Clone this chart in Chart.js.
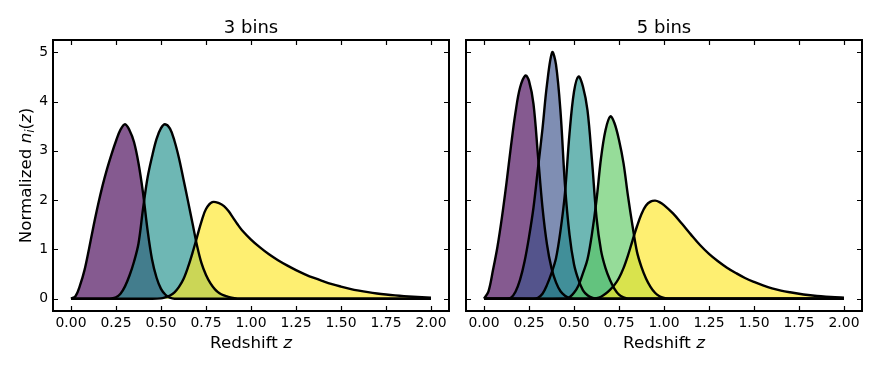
<!DOCTYPE html>
<html>
<head>
<meta charset="utf-8">
<script src="https://cdn.jsdelivr.net/npm/chart.js@4.4.0/dist/chart.umd.min.js"></script>
<style>
  html, body { margin: 0; padding: 0; background: #fff; }
  #wrap { position: relative; width: 880px; height: 368px; }
  canvas { position: absolute; top: 0; }
</style>
</head>
<body>
<div id="wrap">
  <canvas id="left" width="452" height="368" style="left:0px"></canvas>
  <canvas id="right" width="440" height="368" style="left:440px"></canvas>
</div>
<script>
// tick labels
const zTicks = [0, 0.25, 0.5, 0.75, 1, 1.25, 1.5, 1.75, 2];
const nTicks = [0, 1, 2, 3, 4, 5];

const colors3 = ['#440154', '#21918c', '#fde725'];
const colors5 = ['#440154', '#3b528b', '#21918c', '#5ec962', '#fde725'];

// 3 bins, [z, n(z)]
const bin3a = [[0,0],[0.025,0.05],[0.05,0.27],[0.075,0.58],[0.1,1.01],[0.125,1.47],[0.15,1.9],[0.175,2.29],
  [0.2,2.63],[0.225,2.93],[0.25,3.2],[0.275,3.43],[0.3,3.54],[0.325,3.42],[0.35,3.18],[0.375,2.75],
  [0.4,2.15],[0.425,1.4],[0.45,0.8],[0.475,0.43],[0.5,0.2],[0.525,0.08],[0.55,0.02],[0.575,0]];
const bin3b = [[0.2,0],[0.225,0.005],[0.25,0.03],[0.275,0.1],[0.3,0.25],[0.325,0.47],[0.35,0.75],[0.375,1.12],
  [0.4,1.82],[0.425,2.45],[0.45,2.88],[0.475,3.24],[0.5,3.46],[0.522,3.54],[0.55,3.45],[0.575,3.2],
  [0.6,2.85],[0.625,2.42],[0.65,1.98],[0.675,1.53],[0.7,1.08],[0.725,0.72],[0.75,0.48],[0.775,0.31],
  [0.8,0.19],[0.825,0.11],[0.85,0.065],[0.875,0.035],[0.9,0.015],[0.925,0]];
const bin3c = [[0.45,0],[0.5,0.007],[0.525,0.03],[0.55,0.065],[0.575,0.13],[0.6,0.24],[0.625,0.4],[0.65,0.64],
  [0.675,0.93],[0.7,1.25],[0.725,1.57],[0.75,1.82],[0.785,1.96],[0.825,1.935],[0.85,1.88],[0.875,1.78],
  [0.9,1.645],[0.925,1.51],[0.95,1.39],[1,1.2],[1.05,1.04],[1.1,0.9],[1.15,0.78],[1.2,0.675],[1.25,0.58],
  [1.3,0.495],[1.35,0.42],[1.4,0.355],[1.45,0.295],[1.5,0.245],[1.55,0.2],[1.6,0.163],[1.65,0.132],
  [1.7,0.106],[1.75,0.085],[1.8,0.067],[1.85,0.052],[1.9,0.04],[1.95,0.03],[2,0.022]];

// 5 bins
const bin5a = [[0,0],[0.025,0.15],[0.05,0.58],[0.075,1.06],[0.1,1.66],[0.125,2.35],[0.15,3.1],[0.175,3.78],
  [0.2,4.28],[0.23,4.53],[0.25,4.42],[0.275,3.95],[0.3,2.9],[0.325,1.85],[0.35,1.1],[0.375,0.62],
  [0.4,0.33],[0.425,0.15],[0.45,0.06],[0.475,0.01],[0.5,0]];
const bin5b = [[0.125,0],[0.15,0.02],[0.175,0.14],[0.2,0.38],[0.225,0.75],[0.25,1.25],[0.275,1.85],[0.3,2.65],
  [0.325,3.45],[0.35,4.35],[0.379,5.0],[0.4,4.75],[0.425,3.8],[0.45,2.3],[0.475,1.3],[0.5,0.7],
  [0.525,0.38],[0.55,0.17],[0.575,0.07],[0.6,0.02],[0.625,0]];
const bin5c = [[0.275,0],[0.3,0.02],[0.325,0.1],[0.35,0.28],[0.375,0.52],[0.4,0.82],[0.425,1.38],[0.45,2.15],
  [0.475,3.35],[0.5,4.2],[0.525,4.51],[0.55,4.3],[0.575,3.82],[0.6,2.8],[0.625,1.65],[0.65,0.98],
  [0.675,0.62],[0.7,0.38],[0.725,0.2],[0.75,0.08],[0.775,0.025],[0.8,0]];
const bin5d = [[0.45,0],[0.475,0.03],[0.5,0.12],[0.525,0.27],[0.55,0.52],[0.575,0.8],[0.6,1.32],[0.625,2.0],
  [0.65,2.85],[0.675,3.42],[0.702,3.7],[0.725,3.56],[0.75,3.22],[0.775,2.75],[0.8,2.08],[0.825,1.48],
  [0.85,0.95],[0.875,0.64],[0.9,0.41],[0.925,0.24],[0.95,0.12],[0.975,0.05],[1,0.015],[1.025,0]];
const bin5e = [[0.6,0],[0.625,0.01],[0.65,0.04],[0.675,0.1],[0.7,0.18],[0.725,0.28],[0.75,0.42],[0.775,0.62],
  [0.8,0.88],[0.825,1.18],[0.85,1.47],[0.875,1.72],[0.9,1.89],[0.925,1.97],[0.951,1.99],[0.975,1.96],
  [1,1.9],[1.05,1.73],[1.1,1.52],[1.15,1.3],[1.2,1.09],[1.25,0.91],[1.3,0.76],[1.35,0.63],[1.4,0.52],
  [1.45,0.42],[1.5,0.34],[1.55,0.27],[1.6,0.21],[1.65,0.165],[1.7,0.13],[1.75,0.1],[1.8,0.075],
  [1.85,0.055],[1.9,0.04],[1.95,0.028],[2,0.02]];

const FONT = 'DejaVu Sans';

function hexA(hex, a) {
  const r = parseInt(hex.slice(1, 3), 16), g = parseInt(hex.slice(3, 5), 16), b = parseInt(hex.slice(5, 7), 16);
  return `rgba(${r},${g},${b},${a})`;
}

// every curve runs over the full 0..2 range, zeros outside its support
function curve(pts) {
  const out = pts.map(([x, y]) => ({ x, y }));
  if (out[0].x > 0) out.unshift({ x: 0, y: 0 });
  if (out[out.length - 1].x < 2) out.push({ x: 2, y: 0 });
  return out;
}

// draw text pieces [text, italic, sub] centred at 0 on the baseline
function drawMixed(ctx, pieces, size) {
  const fontOf = p => `${p[1] ? 'oblique ' : ''}${p[2] ? size * 0.7 : size}px "${FONT}"`;
  let total = 0;
  const widths = pieces.map(p => { ctx.font = fontOf(p); const w = ctx.measureText(p[0]).width; total += w; return w; });
  let x = -total / 2;
  pieces.forEach((p, i) => {
    ctx.font = fontOf(p);
    ctx.fillText(p[0], x, p[2] ? size * 0.2 : 0);
    x += widths[i];
  });
}

const framePlugin = {
  id: 'frame',
  afterDatasetsDraw(chart) {
    const { ctx, chartArea: a, scales } = chart;
    ctx.save();
    ctx.strokeStyle = '#000';
    ctx.lineWidth = 1.2;
    ctx.beginPath();
    zTicks.forEach(v => {
      const px = Math.round(scales.x.getPixelForValue(v)) + 0.5;
      ctx.moveTo(px, a.bottom); ctx.lineTo(px, a.bottom - 5);
      ctx.moveTo(px, a.top); ctx.lineTo(px, a.top + 5);
    });
    nTicks.forEach(v => {
      const py = Math.round(scales.y.getPixelForValue(v)) + 0.5;
      ctx.moveTo(a.left, py); ctx.lineTo(a.left + 5, py);
      ctx.moveTo(a.right, py); ctx.lineTo(a.right - 5, py);
    });
    ctx.stroke();
    ctx.lineWidth = 2;
    ctx.strokeRect(a.left, a.top, a.right - a.left, a.bottom - a.top);
    ctx.restore();
  },
  afterDraw(chart, args, opts) {
    const { ctx, chartArea: a } = chart;
    const cx = (a.left + a.right) / 2;
    ctx.save();
    ctx.fillStyle = '#000';
    ctx.textAlign = 'left';
    ctx.textBaseline = 'alphabetic';
    // title
    ctx.save();
    ctx.translate(cx, 33);
    drawMixed(ctx, [[opts.title, false, false]], 18);
    ctx.restore();
    // x label
    ctx.save();
    ctx.translate(cx, 348);
    drawMixed(ctx, [['Redshift ', false, false], ['z', true, false]], 16.7);
    ctx.restore();
    // y label
    if (opts.yLabel) {
      ctx.save();
      ctx.translate(31, (a.top + a.bottom) / 2);
      ctx.rotate(-Math.PI / 2);
      drawMixed(ctx, [['Normalized ', false, false], ['n', true, false], ['i', true, true],
        ['(', false, false], ['z', true, false], [')', false, false]], 16.7);
      ctx.restore();
    }
    ctx.restore();
  }
};

function makePanel(id, bins, colors, title, showY, yWidth, padRight) {
  const n = bins.length;
  const datasets = bins.map((b, i) => ({
    data: curve(b),
    borderColor: '#000',
    borderWidth: 2.4,
    backgroundColor: hexA(colors[i], 0.65),
    fill: 'origin',
    pointRadius: 0,
    tension: 0.35,
    order: n - i
  }));
  const tickFont = { family: FONT, size: 13.9 };
  new Chart(document.getElementById(id), {
    type: 'line',
    data: { datasets },
    options: {
      responsive: false,
      animation: false,
      devicePixelRatio: 1,
      layout: { padding: { top: 40, right: padRight, left: 0, bottom: 0 } },
      plugins: {
        legend: { display: false },
        tooltip: { enabled: false },
        filler: { drawTime: 'beforeDatasetsDraw' },
        frame: { title, yLabel: showY }
      },
      scales: {
        x: {
          type: 'linear', min: -0.1, max: 2.1,
          afterBuildTicks: s => { s.ticks = zTicks.map(v => ({ value: v })); },
          afterFit: s => { s.height = 57; },
          ticks: { callback: v => v.toFixed(2), font: tickFont, color: '#000', padding: 4, maxRotation: 0, autoSkip: false },
          grid: { display: false, drawTicks: false },
          border: { display: false }
        },
        y: {
          type: 'linear', min: -0.25, max: 5.25,
          afterBuildTicks: s => { s.ticks = nTicks.map(v => ({ value: v })); },
          afterFit: s => { s.width = yWidth; },
          ticks: { display: showY, font: tickFont, color: '#000', padding: 5 },
          grid: { display: false, drawTicks: false },
          border: { display: false }
        }
      }
    },
    plugins: [framePlugin]
  });
}

makePanel('left', [bin3a, bin3b, bin3c], colors3, '3 bins', true, 53, 3);
makePanel('right', [bin5a, bin5b, bin5c, bin5d, bin5e], colors5, '5 bins', false, 26, 18);
</script>
</body>
</html>
